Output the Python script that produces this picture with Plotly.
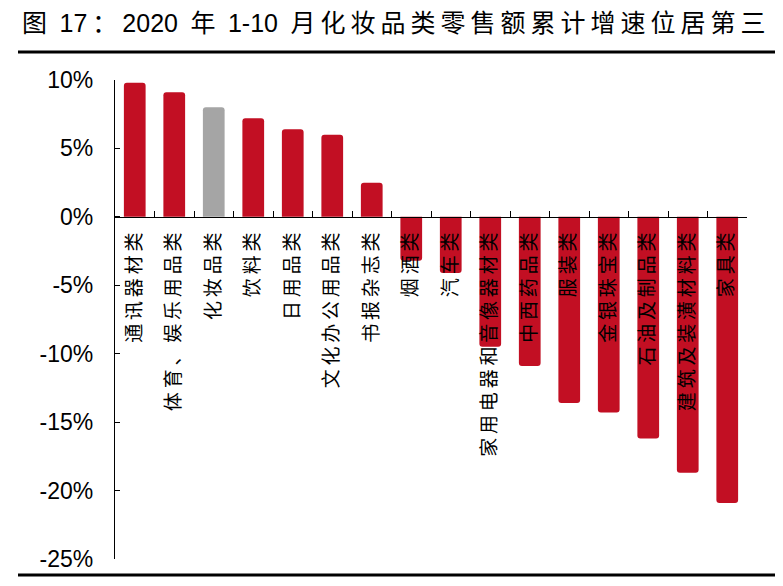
import plotly.graph_objects as go

# Data (cumulative growth, Jan-Oct 2020, %)
categories = [
    "通讯器材类", "体育、娱乐用品类", "化妆品类", "饮料类", "日用品类",
    "文化办公用品类", "书报杂志类", "烟酒类", "汽车类", "家用电器和音像器材类",
    "中西药品类", "服装类", "金银珠宝类", "石油及制品类", "建筑及装潢材料类", "家具类",
]
growth = [9.8, 9.1, 8.0, 7.2, 6.4, 6.0, 2.5, -3.2, -4.1, -9.5,
          -10.9, -13.6, -14.3, -16.2, -18.7, -20.9]
highlight = "化妆品类"

y_tickvals = [10, 5, 0, -5, -10, -15, -20, -25]
y_ticktext = ["10%", "5%", "0%", "-5%", "-10%", "-15%", "-20%", "-25%"]

title_text = "图 17：2020 年 1-10 月化妆品类零售额累计增速位居第三"

RED = "#C20F23"
GREY = "#A5A5A5"
# the page has an 8px body margin, so the figure is drawn 8px smaller
OFF = 8
W, H = 783 - OFF, 586 - OFF
L, R, T, B = 115 - OFF, 36, 80 - OFF, 27
Y_MIN, Y_MAX = -25, 10


def is_cjk(ch):
    return ord(ch) > 0x2E80


def spaced(text, gap="\u2009"):
    # widen character pitch a little, like the original typesetting
    out = ""
    for i, ch in enumerate(text):
        out += "\u2002" if ch == " " else ch
        if i + 1 < len(text):
            nxt = text[i + 1]
            if " " not in (ch, nxt) and (is_cjk(ch) or is_cjk(nxt)):
                out += gap
    return out


colors = [GREY if c == highlight else RED for c in categories]
labels = [spaced(c) for c in categories]

fig = go.Figure(go.Bar(
    x=labels,
    y=growth,
    marker=dict(color=colors, line=dict(width=0), cornerradius=3),
    width=0.55,
    hovertemplate="%{x}: %{y:.1f}%<extra></extra>",
))

zero_pos = (0 - Y_MIN) / (Y_MAX - Y_MIN)

fig.update_layout(
    width=W, height=H,
    margin=dict(l=L, r=R, t=T, b=B),
    paper_bgcolor="white", plot_bgcolor="white",
    showlegend=False,
    font=dict(family="Liberation Sans, Noto Sans CJK SC", color="black"),
    title=dict(
        text=spaced(title_text),
        x=(22 - OFF) / W, xref="container", xanchor="left",
        y=1 - (23 - OFF) / H, yref="container", yanchor="middle",
        font=dict(size=25, family="Liberation Sans, Noto Sans CJK SC", color="black"),
    ),
    xaxis=dict(
        anchor="free", position=zero_pos,
        showline=True, linecolor="black", linewidth=1.2,
        ticks="inside", ticklen=6, tickcolor="black", tickwidth=1.2,
        tickson="boundaries",
        tickangle=-90,
        ticklabelstandoff=7,
        tickfont=dict(size=19, family="Noto Sans CJK SC", color="black"),
        showgrid=False, zeroline=False,
    ),
    yaxis=dict(
        range=[Y_MIN, Y_MAX],
        tickvals=y_tickvals, ticktext=y_ticktext,
        showline=True, linecolor="black", linewidth=1.2,
        ticks="inside", ticklen=5, tickcolor="black", tickwidth=1.2,
        ticklabelstandoff=16,
        tickfont=dict(size=23, family="Liberation Sans", color="black"),
        showgrid=False, zeroline=False,
    ),
)

# rules above and below the chart, positioned in page pixels
pw, ph = W - L - R, H - T - B
for py in (52, 575):
    yp = (H - B - (py - OFF)) / ph
    fig.add_shape(
        type="line", xref="paper", yref="paper",
        x0=(18 - OFF - L) / pw, x1=(780 - OFF - L) / pw,
        y0=yp, y1=yp,
        line=dict(color="black", width=3),
    )

fig.write_html("out.html")
